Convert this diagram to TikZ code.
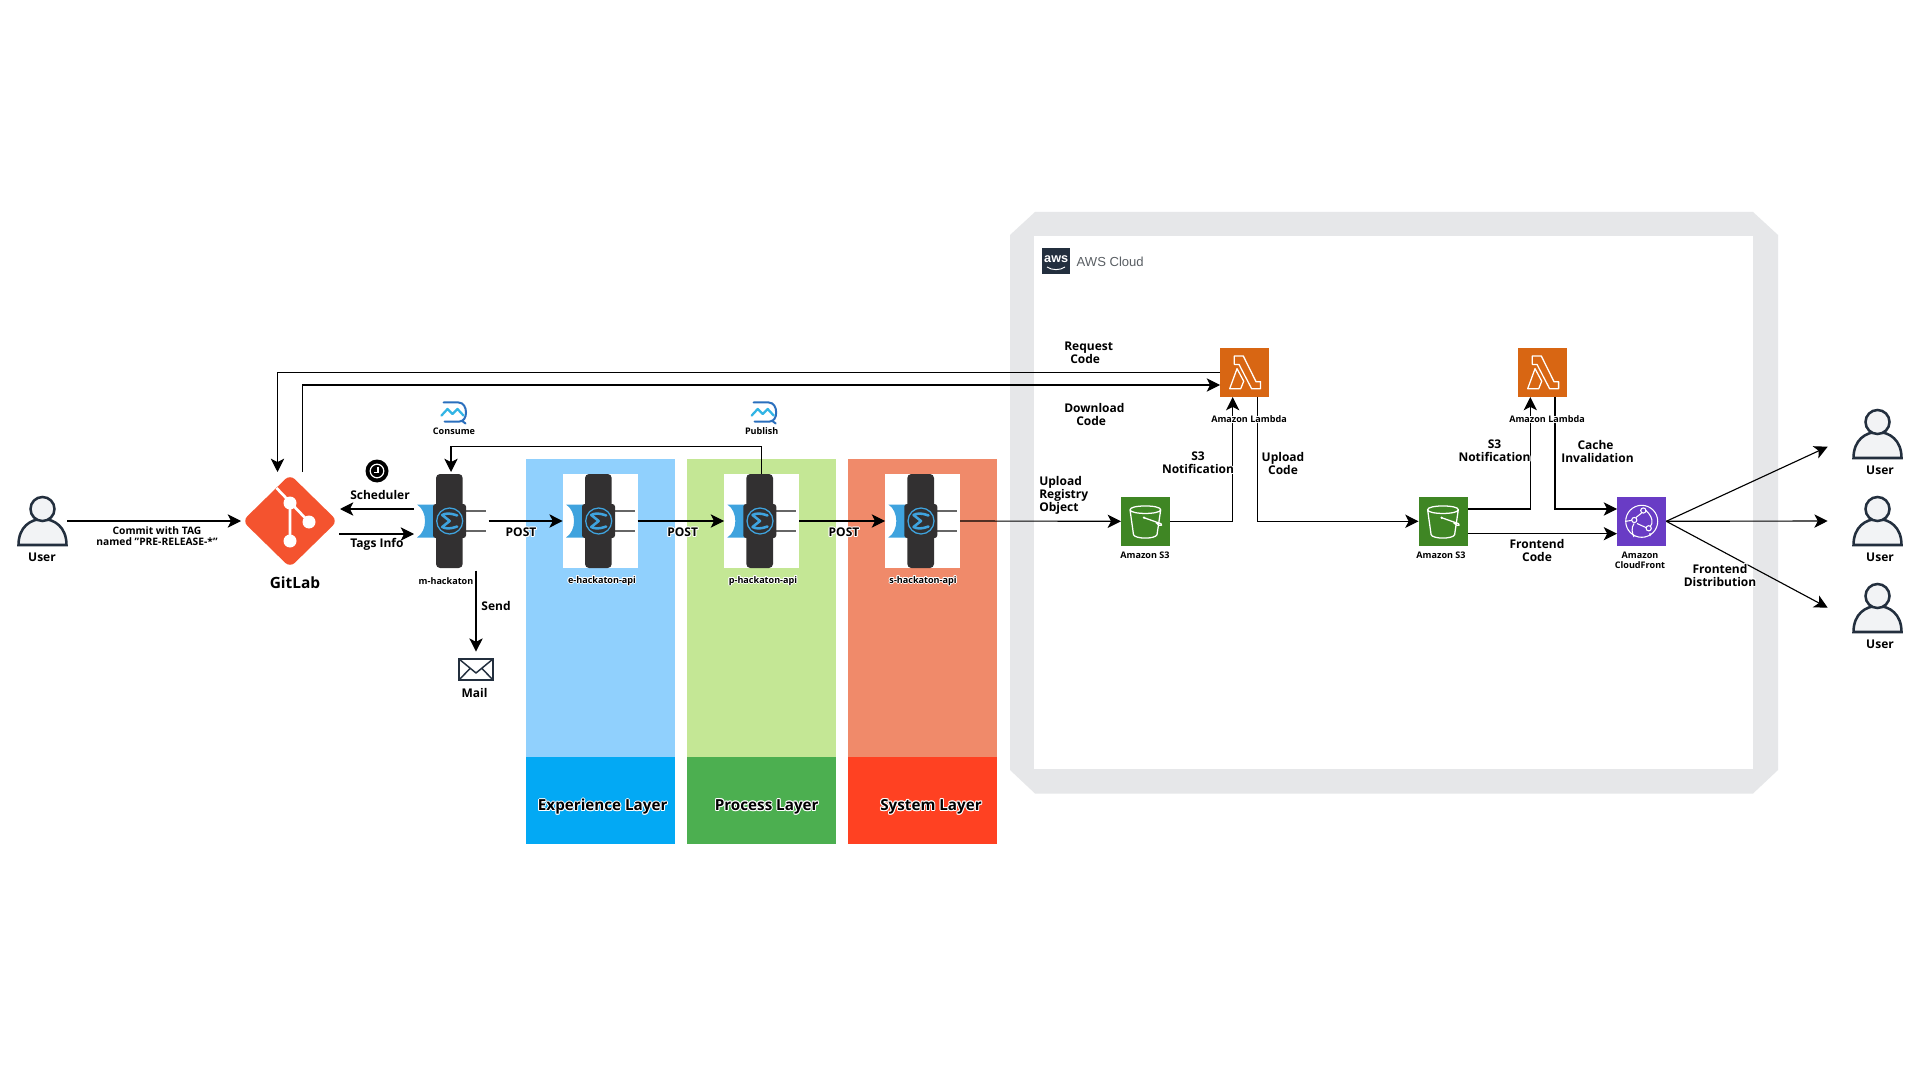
\documentclass[tikz,border=0pt]{standalone}
\usepackage{fontspec}
\setmainfont{Open Sans}
\newfontfamily\awsfont{Liberation Sans}
\usetikzlibrary{arrows.meta,calc}
\definecolor{edgeblue}{HTML}{90D0FD}
\definecolor{edgedark}{HTML}{03A9F4}
\definecolor{procl}{HTML}{C4E795}
\definecolor{procd}{HTML}{4CAF50}
\definecolor{sysl}{HTML}{F08A6A}
\definecolor{sysd}{HTML}{FF4122}
\definecolor{band}{HTML}{E6E7E9}
\definecolor{muledark}{HTML}{323031}
\definecolor{muleblue}{HTML}{3FA3DE}
\definecolor{usr}{HTML}{232F3E}
\definecolor{usrfill}{HTML}{F2F3F5}
\definecolor{gitred}{HTML}{F4532F}
\definecolor{lamb}{HTML}{D86613}
\definecolor{stor}{HTML}{3F8624}
\definecolor{cfront}{HTML}{693CC5}
\newcommand\hlx[3]{\rlap{\hspace{#1}\smash{\raisebox{#2}{\color{white}#3}}}}
\newcommand\hl[1]{\leavevmode\hlx{.75pt}{0pt}{#1}\hlx{-.75pt}{0pt}{#1}\hlx{0pt}{.75pt}{#1}\hlx{0pt}{-.75pt}{#1}\hlx{.55pt}{.55pt}{#1}\hlx{-.55pt}{.55pt}{#1}\hlx{.55pt}{-.55pt}{#1}\hlx{-.55pt}{-.55pt}{#1}#1}
\tikzset{
  cn/.style={draw=black,line width=0.85pt,-{Stealth[length=10pt,width=10pt,inset=2.6pt]}},
  lbl/.style={inner sep=0pt,outer sep=0pt,font=\fontsize{9}{9.75}\selectfont\bfseries,text=black},
  small/.style={inner sep=0pt,outer sep=0pt,font=\fontsize{6.8}{7.5}\selectfont\bfseries,text=black},
  layer/.style={inner sep=0pt,outer sep=0pt,font=\fontsize{11.4}{14}\selectfont\bfseries,text=black},
  hackbox/.style={inner sep=0pt,outer sep=0pt,minimum width=56.25pt,minimum height=70.5pt},
  tile/.style={inner sep=0pt,outer sep=0pt,minimum size=37pt},
  wline/.style={draw=white,line width=0.95pt,line join=round},
}
\newcommand\userIcon[3]{%
  \node[inner sep=0pt,outer sep=0pt,minimum width=36.75pt,minimum height=36pt] (#1) at (#2,#3) {};
  \begin{scope}[shift={(#2,#3)},draw=usr,fill=usrfill,line width=1.9pt]
    \filldraw (-24,24) .. controls (-24,6) and (-12,-2) .. (0,-2) .. controls (12,-2) and (24,6) .. (24,24) -- cycle;
    \filldraw (0,-12) circle (12);
  \end{scope}}
\newcommand\hackIcon[3]{%
  \begin{scope}[shift={(#2,#3)}]
    \fill[muleblue] (3.3,-16.5) -- (21,-16.5) -- (21,16.5) -- (3.3,16.5) .. controls (14,10) and (14,-10) .. (3.3,-16.5) -- cycle;
    \draw[color=black!60,line width=1.5pt] (52,-10) -- (72.3,-10) (52,10) -- (72.3,10);
    \fill[muledark,rounded corners=3] (22.3,-47) rectangle (49,47);
    \fill[muledark,rounded corners=2] (19.3,-17) rectangle (52.3,17);
    \draw[muleblue,line width=0.95pt] (36,0) circle (13);
    \draw[muleblue,line width=1.9pt,line join=round,line cap=round] (43.5,-5.5) .. controls (37,-8) and (32,-8) .. (28.5,-6) -- (36,0) -- (28.5,6) .. controls (32,8) and (37,8) .. (43.5,5.5);
  \end{scope}}
\newcommand\bubbleIcon[2]{%
  \begin{scope}[shift={(#1,#2)}]
    \draw[color=black!20!muleblue!85!blue,line width=1.5pt,line cap=round] (-10,-10) -- (5,-10) .. controls (10,-10) and (12.5,-5) .. (12.5,0) .. controls (12.5,5) and (10,9) .. (6,9) -- (-9,9) (8,8) -- (12,11);
    \draw[color=muleblue!80!cyan,line width=1.7pt,line join=round,line cap=round] (-12,3) -- (-6,-3.5) -- (-1,1.5) -- (4,-3.5) -- (10,3);
  \end{scope}}
\newcommand\lambdaIcon[2]{%
  \begin{scope}[shift={(#1,#2)},wline]
    \draw (14.3,8.3) -- (23.3,8.3) -- (36,34) -- (40.6,34) -- (40.6,41) -- (31.6,41) -- (19,16.7) -- (14.3,16.7) -- cycle;
    \draw (17,21) -- (9.7,41) -- (20.7,41) -- (23.7,33.5) -- cycle;
  \end{scope}}
\newcommand\bucketIcon[2]{%
  \begin{scope}[shift={(#1,#2)},wline]
    \draw (9,13) .. controls (9,8) and (39.7,8) .. (39.7,13) .. controls (39.7,18) and (9,18) .. (9,13) -- (12.5,38) .. controls (14,42.5) and (34.5,42.5) .. (36,38) -- (39.7,13);
    \draw (23,21) -- (40,27) .. controls (42,28) and (40,29.5) .. (38,28.5) -- (35,26);
    \fill[white] (23,21) circle (1.3);
  \end{scope}}
\begin{document}
\begin{tikzpicture}[x=0.75pt,y=-0.75pt]
\useasboundingbox[fill=white] (0,0) rectangle (1920,1080);
% layers
\fill[edgeblue] (526,459.3) rectangle (674.7,757);
\fill[edgedark] (526,757) rectangle (674.7,843.7);
\fill[procl] (687,459.3) rectangle (836,757);
\fill[procd] (687,757) rectangle (836,843.7);
\fill[sysl] (848,459.3) rectangle (997,757);
\fill[sysd] (848,757) rectangle (997,843.7);
% aws cloud
\fill[band] (1010,235) -- (1035,212) -- (1753,212) -- (1778,235) -- (1778,770) -- (1753,793.5) -- (1035,793.5) -- (1010,770) -- cycle;
\fill[white] (1034,236) rectangle (1753,769);
\node[inner sep=0pt,outer sep=0pt,fill=usr,minimum width=20.8pt,minimum height=20pt,text=white,font=\awsfont\fontsize{9.5}{9.5}\selectfont\bfseries] (awslogo) at (1056.2,261) {\raisebox{2.5pt}{aws}};
\draw[white,line width=0.7pt] (1047,267) .. controls (1052,270.5) and (1060,270.5) .. (1065,267);
\node[inner sep=0pt,outer sep=0pt,anchor=west,text=black!45!usr!70!white,font=\awsfont\fontsize{9.8}{10}\selectfont] (awstxt) at (1076.7,262) {AWS Cloud};
% white boxes
\node[hackbox,fill=white] (ehack) at (600.2,521) {};
\node[hackbox,fill=white] (phack) at (761.5,521) {};
\node[hackbox,fill=white] (shack) at (922.5,521) {};
\node[hackbox] (mhack) at (451.2,521) {};
% tiles
\node[tile,fill=lamb] (lam1) at (1244.6,372.3) {};
\node[tile,fill=lamb] (lam2) at (1542.5,372.3) {};
\node[tile,fill=stor] (s3a) at (1145.6,521.3) {};
\node[tile,fill=stor] (s3b) at (1443.2,521.3) {};
\node[tile,fill=cfront] (cf) at (1641.6,521.3) {};
% user, gitlab and mail anchors
\userIcon{u0}{42.5}{521}
\userIcon{u1}{1877.5}{434}
\userIcon{u2}{1877.5}{521}
\userIcon{u3}{1877.5}{608}
\node[inner sep=0pt,outer sep=0pt,minimum width=73.5pt,minimum height=73.5pt] (gl) at (290,521) {};
\node[inner sep=0pt,outer sep=0pt,minimum width=25.5pt,minimum height=15.75pt,draw=usr,line width=1.1pt] (mail) at (476,669.5) {};
% ports
\coordinate (glA) at (277.5,472);
\coordinate (glB) at (302.5,472);
\coordinate (lamA) at (1220,372.7);
\coordinate (lamB) at (1220,385);
\coordinate (gsE) at (340,509);
\coordinate (msW) at (414,509);
\coordinate (gtE) at (339,534);
\coordinate (mtW) at (414,534);
\coordinate (mS) at (476,570.7);
\coordinate (mailT) at (476,651.7);
\coordinate (mTop) at (451,472);
\coordinate (pTop) at (761.7,474);
\coordinate (l1S3) at (1232.7,397);
\coordinate (l1Out) at (1257.7,397);
\coordinate (l2S3) at (1530.3,397);
\coordinate (l2Out) at (1555,397);
\coordinate (bA) at (1468,509);
\coordinate (bB) at (1468,533.7);
\coordinate (cfA) at (1617,509);
\coordinate (cfB) at (1617,533.7);
\coordinate (t1) at (1827.7,446.7);
\coordinate (t2) at (1827.7,521);
\coordinate (t3) at (1827.7,607.7);
% connectors
\draw[cn] (u0.east) -- (gl.west);
\draw[cn] (lamA) -| (glA);
\draw[cn] (glB) |- (lamB);
\draw[cn] (msW) -- (gsE);
\draw[cn] (gtE) -- (mtW);
\draw[cn] (mS) -- (mailT);
\draw[cn] (pTop) |- (646,446.7) -| (mTop);
\draw[cn] (mhack.east) -- (ehack.west);
\draw[cn] (ehack.east) -- (phack.west);
\draw[cn] (phack.east) -- (shack.west);
\draw[cn] (shack.east) -- (s3a.west);
\draw[cn] (s3a.east) -| (l1S3);
\draw[cn] (l1Out) |- (s3b.west);
\draw[cn] (bA) -| (l2S3);
\draw[cn] (l2Out) |- (cfA);
\draw[cn] (bB) -- (cfB);
\draw[cn] (cf.east) -- (t1);
\draw[cn] (cf.east) -- (t2);
\draw[cn] (cf.east) -- (t3);
% icons
\fill[gitred,rounded corners=5] (242.5,521) -- (290,474.5) -- (337.5,521) -- (290,567.5) -- cycle;
\draw[white,line width=2pt] (276.5,488) -- (309,522) (290,503) -- (290,541);
\fill[white] (290,503) circle (6.5) (309,522) circle (6.5) (290,541) circle (6.5);
\hackIcon{m}{413.7}{521}
\hackIcon{e}{562.7}{521}
\hackIcon{p}{724}{521}
\hackIcon{s}{885}{521}
\bubbleIcon{453.5}{412.5}
\bubbleIcon{763.7}{412.5}
\fill[black] (377,471) circle (11.5);
\draw[white,line width=0.9pt] (377,471) circle (6.8);
\draw[white,line width=0.9pt] (378,466.5) -- (378,472.5) -- (374,472.5);
\draw[usr,line width=1.1pt,line join=round] (459,659) -- (476,673) -- (493,659) (459,680) -- (470,668.5) (493,680) -- (482,668.5);
\lambdaIcon{1220}{347.7}
\lambdaIcon{1518}{347.7}
\bucketIcon{1121}{496.7}
\bucketIcon{1418.6}{496.7}
\begin{scope}[wline,line width=0.8pt]
  \draw (1641.7,521.3) circle (16);
  \draw (1641.7,521.3) ++(-16,0) -- (1634.3,520) (1644,511) -- (1636,517.5) (1637,523.5) -- (1648,528.5) (1650,533) -- (1650,536);
  \draw (1634,523.5) .. controls (1631,528) and (1632,533) .. (1634,537);
  \draw (1646,510.5) .. controls (1652,516) and (1654,523) .. (1650,527);
  \filldraw[fill=cfront] (1643.3,510.5) circle (2.6) (1634.3,520) circle (2.6) (1648.7,528.3) circle (2.6);
\end{scope}
% labels
\node[lbl] (tu0) at (42,557.3) {User};
\node[lbl] (tu1) at (1880,470.5) {User};
\node[lbl] (tu2) at (1880,557.2) {User};
\node[lbl] (tu3) at (1880,644.5) {User};
\node[small,align=center,font=\fontsize{7.7}{8.4}\selectfont\bfseries] (tcommit) at (157,536.5) {Commit with TAG\\named "PRE-RELEASE-*"};
\node[inner sep=0pt,font=\fontsize{11.6}{14}\selectfont\bfseries] (tgit) at (295,582.5) {GitLab};
\node[lbl] (tsch) at (380,495) {Scheduler};
\node[lbl] (ttags) at (377,544) {Tags Info};
\node[small] (tm) at (446,580.8) {m-hackaton};
\node[lbl] (tsend) at (496,605.7) {Send};
\node[lbl] (tmail) at (474.5,692.7) {Mail};
\node[small] (tcons) at (454,431.2) {Consume};
\node[small] (tpub) at (761.7,431.2) {Publish};
\node[small] (te) at (602,580.8) {\hl{e-hackaton-api}};
\node[small] (tp) at (763,580.8) {\hl{p-hackaton-api}};
\node[small] (ts) at (923,580.8) {\hl{s-hackaton-api}};
\node[lbl] (tp1) at (521,532.5) {\hl{POST}};
\node[lbl] (tp2) at (682.7,532.5) {\hl{POST}};
\node[lbl] (tp3) at (844,532.5) {\hl{POST}};
\node[layer] (tl1) at (602.7,807) {\hl{Experience Layer}};
\node[layer] (tl2) at (766.7,807) {\hl{Process Layer}};
\node[layer] (tl3) at (931,807) {\hl{System Layer}};
\node[lbl,align=left,anchor=west] (treq) at (1064.3,352.4) {Request\\\hspace*{4.5pt}Code};
\node[lbl,align=left,anchor=west] (tdl) at (1064.3,414.4) {Download\\\hspace*{9pt}Code};
\node[lbl,align=left,anchor=west] (tup) at (1039.3,495) {\hl{Upload}\\\hl{Registry}\\\hl{Object}};
\node[lbl,align=center] (tn1) at (1198,463.2) {\hl{S3}\\\hl{Notification}};
\node[lbl,align=center] (tupc) at (1283,463.2) {Upload\\Code};
\node[small] (tlam1) at (1249,418.7) {\hl{Amazon Lambda}};
\node[small] (tlam2) at (1547,418.7) {\hl{Amazon Lambda}};
\node[small] (ts31) at (1145,555.2) {Amazon S3};
\node[small] (ts32) at (1441,555.2) {Amazon S3};
\node[lbl,align=center] (tn2) at (1494.5,451.2) {\hl{S3}\\\hl{Notification}};
\node[lbl,align=center] (tcache) at (1595.5,451.2) {Cache\\\hspace*{3pt}Invalidation};
\node[lbl,align=center] (tfc) at (1537,550.2) {Frontend\\Code};
\node[small,align=center] (tcf) at (1640,560.2) {Amazon\\CloudFront};
\node[lbl,align=center] (tfd) at (1720,575.2) {\hl{Frontend}\\\hl{Distribution}};
\end{tikzpicture}
\end{document}
